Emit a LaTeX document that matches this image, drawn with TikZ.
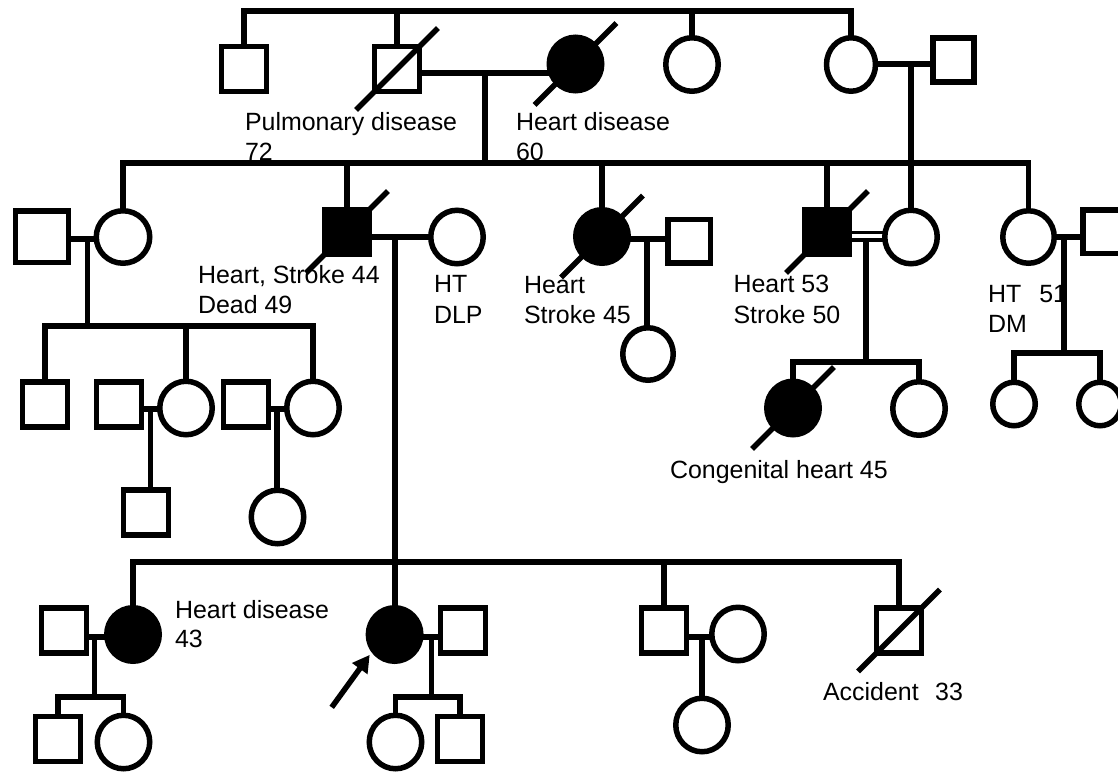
\documentclass[tikz,border=0pt]{standalone}
\usepackage{fontspec}
\setmainfont{Liberation Sans}
\usetikzlibrary{shapes.geometric,arrows.meta,calc}
\newcommand\deadmark[1]{\draw ($(#1)+(-0.82cm,-0.82cm)$) -- ($(#1)+(0.82cm,0.82cm)$);}
\begin{document}
\begin{tikzpicture}[x=0.02cm,y=-0.02cm,line width=0.11cm,
  every node/.style={inner sep=0pt,outer sep=0pt},
  sq/.style={draw,rectangle,minimum width=0.9cm,minimum height=0.9cm},
  ci/.style={draw,ellipse,minimum width=1.05cm,minimum height=1.07cm},
  aff/.style={fill=black},
  lbl/.style={anchor=base west,font=\fontsize{14.2}{17}\selectfont},
  arr/.style={-{Triangle[length=0.34cm,width=0.36cm]},shorten >=0.12cm}]
\useasboundingbox (0,0) rectangle (1118,771);
% coordinates for unions and sibship lines
\coordinate (t1) at (0,11);
\coordinate (u1) at (485,73);
\coordinate (u2) at (911,64);
\coordinate (s2) at (0,163);
\coordinate (u3) at (87.5,239);
\coordinate (s3) at (0,326);
\coordinate (u4) at (395,237);
\coordinate (u5) at (647,239);
\coordinate (u6a) at (866,232.7);
\coordinate (u6) at (866,240);
\coordinate (s6) at (0,362);
\coordinate (u7) at (1064,237);
\coordinate (s7) at (0,353);
\coordinate (u8) at (150.7,409);
\coordinate (u9) at (277,409);
\coordinate (s4) at (0,562);
\coordinate (u10) at (94.6,637);
\coordinate (s5) at (0,697);
\coordinate (u11) at (431.4,637);
\coordinate (u12) at (702,637);
\coordinate (pa) at (331.7,707.3);
% Generation I
\node[sq] (A) at (244,69) {};
\node[sq] (B) at (397,69) {};
\node[ci,aff] (C) at (575.5,64) {};
\node[ci] (D) at (692,64.5) {};
\node[ci,minimum width=0.98cm] (E) at (851,64.5) {};
\node[sq,minimum width=0.82cm,minimum height=0.89cm] (F) at (953.5,60) {};
% Generation II
\node[sq,minimum width=1.07cm,minimum height=1.03cm] (G2a) at (42,236.5) {};
\node[ci,minimum width=1.07cm,minimum height=1.05cm] (G2b) at (123,237) {};
\node[sq,aff] (G) at (347,232) {};
\node[ci] (H) at (457,237) {};
\node[ci,aff] (I) at (602,236.5) {};
\node[sq,minimum width=0.85cm,minimum height=0.87cm] (J) at (689,241) {};
\node[ci,minimum width=1.01cm,minimum height=1.05cm] (K) at (648,354) {};
\node[sq,aff] (L) at (827,232) {};
\node[ci] (M) at (911,237) {};
\node[ci,minimum width=1.03cm,minimum height=1.05cm] (P) at (1028.5,237) {};
\node[sq,minimum width=0.85cm,minimum height=0.87cm] (Q) at (1104,231.5) {};
% Generation III
\node[sq] (T1) at (45,404.5) {};
\node[sq] (T2) at (119,404.5) {};
\node[ci] (T3) at (186,408) {};
\node[sq] (T5) at (246,404.5) {};
\node[ci] (T6) at (313,408) {};
\node[sq] (T4) at (146,512.5) {};
\node[ci] (T7) at (277.5,517) {};
\node[ci,aff] (N) at (793,408) {};
\node[ci] (O) at (919,408.5) {};
\node[ci,minimum width=0.85cm,minimum height=0.87cm] (R) at (1014,404) {};
\node[ci,minimum width=0.85cm,minimum height=0.87cm] (S) at (1100,404) {};
\node[ci,aff] (U) at (133,634.5) {};
\node[sq] (V) at (64,630.5) {};
\node[sq] (W) at (58,739) {};
\node[ci] (X) at (123.5,742) {};
\node[ci,aff] (Y) at (394.6,634.5) {};
\node[sq] (Z) at (463,630.5) {};
\node[ci] (AA) at (395.5,742) {};
\node[sq] (AB) at (460,739) {};
\node[sq] (AC) at (664,630.5) {};
\node[ci] (AD) at (738,634) {};
\node[ci] (AE) at (702,725) {};
\node[sq] (AF) at (899,630.5) {};
% connectors generation I
\draw (A.north) |- (E.north |- t1) -- (E.north);
\draw (B.north) -- (B.north |- t1);
\draw (D.north) -- (D.north |- t1);
\draw (B.east |- u1) -- (C.west |- u1);
\draw (u1) -- (u1 |- s2);
\draw (E.east |- u2) -- (F.west |- u2);
\draw (u2) -- (M.north);
% generation II
\draw (G2b.north) |- (P.north |- s2) -- (P.north);
\draw (G.north) -- (G.north |- s2);
\draw (I.north) -- (I.north |- s2);
\draw (L.north) -- (L.north |- s2);
\draw (G2a.east |- u3) -- (G2b.west |- u3);
\draw (u3) -- (u3 |- s3);
\draw (T1.north) |- (T6.north |- s3) -- (T6.north);
\draw (T3.north) -- (T3.north |- s3);
\draw (T2.east |- u8) -- (T3.west |- u8);
\draw (u8) -- (u8 |- T4.north);
\draw (T5.east |- u9) -- (T6.west |- u9);
\draw (u9) -- (u9 |- T7.north);
\draw (G.east |- u4) -- (H.west |- u4);
\draw (u4) -- (u4 |- Y.north);
\draw (I.east |- u5) -- (J.west |- u5);
\draw (u5) -- (u5 |- K.north);
\draw[line width=0.066cm] (L.east |- u6a) -- (M.west |- u6a);
\draw[line width=0.094cm] (L.east |- u6) -- (M.west |- u6);
\draw (u6) -- (u6 |- s6);
\draw (N.north) |- (O.north |- s6) -- (O.north);
\draw (P.east |- u7) -- (Q.west |- u7);
\draw (u7) -- (u7 |- s7);
\draw (R.north) |- (S.north |- s7) -- (S.north);
% generation III
\draw (U.north) |- (AF.north |- s4) -- (AF.north);
\draw (AC.north) -- (AC.north |- s4);
\draw (V.east |- u10) -- (U.west |- u10);
\draw (u10) -- (u10 |- s5);
\draw (W.north) |- (X.north |- s5) -- (X.north);
\draw (Y.east |- u11) -- (Z.west |- u11);
\draw (u11) -- (u11 |- s5);
\draw (AA.north) |- (AB.north |- s5) -- (AB.north);
\draw (AC.east |- u12) -- (AD.west |- u12);
\draw (u12) -- (AE.north);
\draw[arr] (pa) -- (Y.216);
% deceased marks
\deadmark{B}
\deadmark{C}
\deadmark{G}
\deadmark{I}
\deadmark{L}
\deadmark{N}
\deadmark{AF}
% labels
\node[lbl] (lbB1) at (245,130) {Pulmonary disease};
\node[lbl] (lbB2) at (245,160) {72};
\node[lbl] (lbC1) at (516,130) {Heart disease};
\node[lbl] (lbC2) at (516,160) {60};
\node[lbl] (lbG1) at (198,283) {Heart, Stroke 44};
\node[lbl] (lbG2) at (198,313) {Dead 49};
\node[lbl] (lbH1) at (434,292) {HT};
\node[lbl] (lbH2) at (434,323) {DLP};
\node[lbl] (lbI1) at (524,293) {Heart};
\node[lbl] (lbI2) at (524,323) {Stroke 45};
\node[lbl] (lbL1) at (733.5,292) {Heart 53};
\node[lbl] (lbL2) at (733.5,323) {Stroke 50};
\node[lbl] (lbP1) at (988,302) {HT\hspace{0.36cm}51};
\node[lbl] (lbP2) at (988,332) {DM};
\node[lbl] (lbN) at (670,478) {Congenital heart 45};
\node[lbl] (lbU1) at (175,618) {Heart disease};
\node[lbl] (lbU2) at (175,647) {43};
\node[lbl] (lbAF) at (823,700) {Accident\hspace{0.33cm}33};
\end{tikzpicture}
\end{document}
